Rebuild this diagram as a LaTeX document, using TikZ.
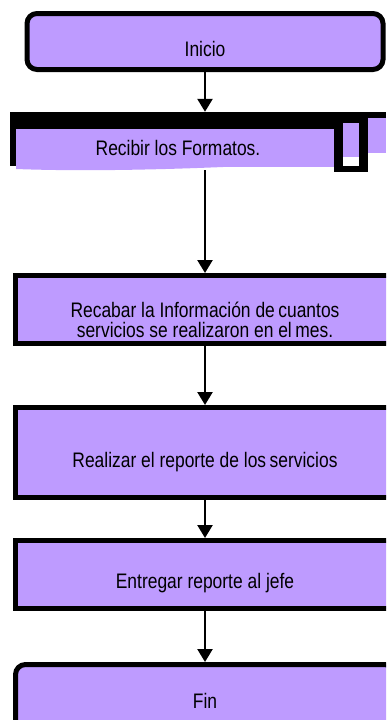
\documentclass[tikz,border=0pt]{standalone}
\usepackage{fontspec}
\setmainfont{Liberation Sans}[FakeStretch=0.83]
\usetikzlibrary{arrows.meta}
\definecolor{lila}{RGB}{190,155,255}

\begin{document}
\begin{tikzpicture}[x=1pt, y=-1pt,
    caja/.style={draw=black, line width=5pt, fill=lila, minimum width=379pt, inner sep=0pt},
    inicfin/.style={caja, rounded corners=10pt},
    texto/.style={font=\fontsize{21}{20}\selectfont, align=center, inner sep=0pt, text depth=0pt},
    flecha/.style={line width=2.5pt, -{Triangle[width=15pt,length=13pt]}}]
\useasboundingbox (0,0) rectangle (386,720);
\clip (0,0) rectangle (386,720);

% Inicio
\node[inicfin, minimum width=356pt, minimum height=56pt] (inicio) at (205,41.5) {};
\node[texto] (inicioT) at ([yshift=-7pt]inicio.center) {Inicio};

% Recibir (caja cortada)
\node[fill=black, minimum width=324pt, minimum height=17pt, inner sep=0pt] (barra) at (172,120.5) {};
\node[texto, fill=lila, minimum width=324pt, minimum height=38pt] (recibir) at (178,148) {Recibir los Formatos.};
\fill[lila] (16,166) -- (16,169) .. controls (120,173) and (260,166) .. (334,161) -- (334,166) -- cycle;
\fill[black] (10,112) rectangle (16,166);
\fill[black] (334,112) rectangle (368,172);
\fill[lila] (343,123) rectangle (359,157);
\fill[white] (343,157) rectangle (359,166);
\fill[black] (368,112) rectangle (386,118);
\fill[lila] (368,118) rectangle (386,153);

% Pasos
\node[caja, minimum height=68pt] (recabar) at (205,309.5) {};
\node[texto] (recabarT) at ([yshift=-10pt]recabar.center) {Recabar la Información de\,cuantos\\servicios se realizaron en el\,mes.};

\node[caja, minimum height=90pt] (realizar) at (205,452.5) {};
\node[texto] (realizarT) at ([yshift=-7pt]realizar.center) {Realizar el reporte de los\,servicios};

\node[caja, minimum height=68pt] (entregar) at (205,574.5) {};
\node[texto] (entregarT) at ([yshift=-6pt]entregar.center) {Entregar reporte al jefe};

% Fin
\node[inicfin, minimum height=100pt] (fin) at (205,714.5) {};
\node[texto] (finT) at ([yshift=14pt]fin.center) {Fin};

% Flechas
\draw[flecha] (inicio) -- (inicio.south |- barra.north);
\draw[flecha, shorten <=3pt] (recabar.north |- recibir.south) -- (recabar);
\draw[flecha] (recabar) -- (realizar);
\draw[flecha] (realizar) -- (entregar);
\draw[flecha] (entregar) -- (fin);
\end{tikzpicture}
\end{document}
